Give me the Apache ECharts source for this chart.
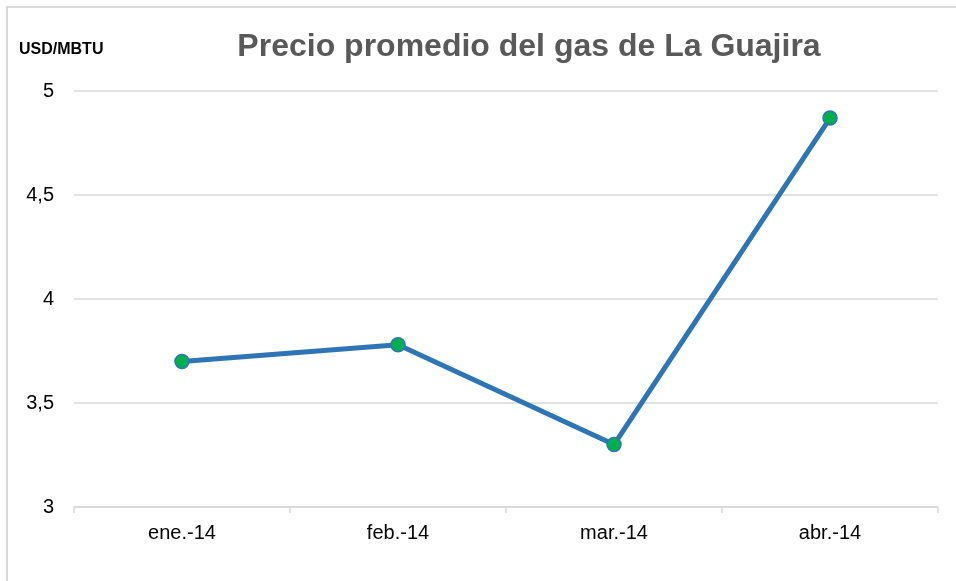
<!DOCTYPE html>
<html>
<head>
<meta charset="utf-8">
<script src="https://cdn.jsdelivr.net/npm/echarts@6/dist/echarts.min.js"></script>
<style>
  html, body { margin: 0; padding: 0; background: #fff; }
  #chart { width: 956px; height: 581px; }
</style>
</head>
<body>
<div id="chart"></div>
<script>
// datos
var meses = ['ene.-14', 'feb.-14', 'mar.-14', 'abr.-14'];
var precios = [3.70, 3.78, 3.30, 4.87];
var yMin = 3, yMax = 5, yPaso = 0.5;

var chart = echarts.init(document.getElementById('chart'));

var option = {
  backgroundColor: '#fff',
  animation: false,
  textStyle: { fontFamily: 'Liberation Sans, Arial, sans-serif' },
  title: [{
    text: 'Precio promedio del gas de La Guajira',
    left: 524,
    textAlign: 'center',
    top: 26,
    textStyle: { fontSize: 32, fontWeight: 'bold', color: '#595959' }
  }, {
    text: 'USD/MBTU',
    left: 14,
    top: 37,
    textStyle: { fontSize: 16, fontWeight: 'bold', color: '#000' }
  }],
  graphic: [{
    type: 'rect',
    shape: { x: 7, y: 7, width: 1200, height: 1200 },
    style: { fill: 'none', stroke: '#d9d9d9', lineWidth: 2 },
    silent: true
  }],
  grid: { left: 74, right: 18, top: 91, bottom: 74 },
  xAxis: {
    type: 'category',
    data: meses,
    boundaryGap: true,
    axisLine: { lineStyle: { color: '#d9d9d9', width: 1.5 } },
    axisTick: { show: true, length: 6, lineStyle: { color: '#d9d9d9', width: 1.5 } },
    axisLabel: { color: '#000', fontSize: 20, margin: 16 }
  },
  yAxis: {
    type: 'value',
    min: yMin,
    max: yMax,
    interval: yPaso,
    axisLine: { show: false },
    axisTick: { show: false },
    axisLabel: {
      color: '#000',
      fontSize: 20,
      margin: 20,
      formatter: function (v) { return String(v).replace('.', ','); }
    },
    splitLine: { lineStyle: { color: '#d9d9d9', width: 1.5 } }
  },
  series: [{
    type: 'line',
    data: precios,
    symbol: 'circle',
    symbolSize: 14,
    lineStyle: { color: '#2E75B6', width: 5 },
    itemStyle: { color: '#00B050', borderColor: '#2E75B6', borderWidth: 1.5 }
  }]
};

chart.setOption(option);
</script>
</body>
</html>
